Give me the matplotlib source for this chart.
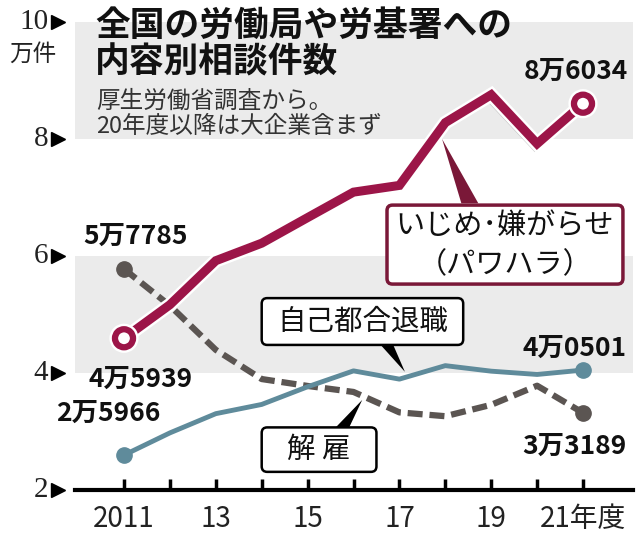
import matplotlib
matplotlib.use("Agg")
import matplotlib.pyplot as plt
import matplotlib.patheffects as pe
from matplotlib.patches import Polygon, FancyBboxPatch

plt.rcParams['font.family'] = ['Noto Sans CJK JP', 'DejaVu Sans']

years = [2011, 2012, 2013, 2014, 2015, 2016, 2017, 2018, 2019, 2020, 2021]
pawahara = [4.5939, 5.1670, 5.9197, 6.2191, 6.6566, 7.0917, 7.2067, 8.2797, 8.7570, 7.9190, 8.6034]
kaiko = [5.7785, 5.1515, 4.3956, 3.8966, 3.7787, 3.6760, 3.3269, 3.2614, 3.4561, 3.7826, 3.3189]
jiko = [2.5966, 2.9763, 3.3049, 3.4626, 3.7648, 4.0364, 3.8954, 4.1258, 4.0313, 3.9750, 4.0501]

xtick_pos = [2011, 2013, 2015, 2017, 2019, 2021]
xtick_labels = ['2011', '13', '15', '17', '19', '21年度']
ytick_pos = [2, 4, 6, 8, 10]
ytick_labels = ['2', '4', '6', '8', '10']

CRIMSON = '#9c1548'
MAROON = '#7a1838'
BLUE = '#5f8b9b'
GRAY = '#5b5552'
BAND = '#ebebeb'

fig = plt.figure(figsize=(6.4, 5.39), dpi=100)
ax = fig.add_axes([75/640, 1-490/539, 558/640, 468/539])
ax.set_xlim(2011 - 49/45.9, 2021 + 50/45.9)
ax.set_ylim(2, 10)

# bands
ax.axhspan(4, 6, color=BAND, zorder=0, lw=0)
ax.axhspan(8, 10, color=BAND, zorder=0, lw=0)

for s in ['left', 'right', 'top']:
    ax.spines[s].set_visible(False)
ax.spines['bottom'].set_linewidth(3)
ax.spines['bottom'].set_color('black')

ax.set_xticks(years, minor=False)
ax.set_xticklabels(['' for _ in years])
ax.tick_params(axis='x', direction='in', length=8, width=2.5, color='black')
for p, l in zip(xtick_pos, xtick_labels):
    ax.text(p, -0.03, l, transform=ax.get_xaxis_transform(), ha='center', va='top',
            fontsize=20, color='#222222')

ax.set_yticks([])
for p, l in zip(ytick_pos, ytick_labels):
    ax.text(-0.048, p, l, transform=ax.get_yaxis_transform(), ha='right', va='center',
            fontsize=21, family='Liberation Serif', color='#222222')
    ax.plot([-0.03], [p], marker='>', markersize=10, color='black',
            transform=ax.get_yaxis_transform(), clip_on=False)
fig.text(9/640, 1-54/539, '万件', ha='left', va='center', fontsize=17, color='#222222')

# lines
ax.plot(years, kaiko, color=GRAY, lw=4.5, dashes=(2.4, 1.1), zorder=3, solid_capstyle='butt')
ax.plot([years[0], years[-1]], [kaiko[0], kaiko[-1]], 'o', color=GRAY, ms=11, zorder=3)
ax.plot(years, jiko, color=BLUE, lw=3.5, zorder=3, solid_joinstyle='round')
ax.plot([years[0], years[-1]], [jiko[0], jiko[-1]], 'o', color=BLUE, ms=11, zorder=3)
effects = [pe.SimpleLineShadow(offset=(-1.5, -1.5), shadow_color='#999999', alpha=0.5),
           pe.Stroke(linewidth=10, foreground='white'), pe.Normal()]
ax.plot(years, pawahara, color=CRIMSON, lw=6.5, zorder=4, solid_joinstyle='miter',
        path_effects=effects)
ax.plot([years[0], years[-1]], [pawahara[0], pawahara[-1]], 'o', color='white', ms=13,
        mec=CRIMSON, mew=4.5, zorder=5,
        path_effects=[pe.Stroke(linewidth=8, foreground='white'), pe.Normal()])

# value labels
lab_kw = dict(fontsize=19, fontweight='bold', color='#111111', zorder=6)
ax.text(years[0] + 0.35, pawahara[0] - 0.7, '4万5939', ha='center', va='center', **lab_kw)
ax.text(years[0] + 0.25, kaiko[0] + 0.55, '5万7785', ha='center', va='center', **lab_kw)
ax.text(years[0] - 0.35, jiko[0] + 0.72, '2万5966', ha='center', va='center', **lab_kw)
ax.text(years[-1] - 0.16, pawahara[-1] + 0.55, '8万6034', ha='center', va='center', **lab_kw)
ax.text(years[-1] - 0.18, jiko[-1] + 0.37, '4万0501', ha='center', va='center', **lab_kw)
ax.text(years[-1] - 0.18, kaiko[-1] - 0.57, '3万3189', ha='center', va='center', **lab_kw)

# callout boxes
def box(x0, x1, y0, y1, ec, lw):
    b = FancyBboxPatch((x0, y0), x1 - x0, y1 - y0,
                       boxstyle='round,pad=0,rounding_size=0.12', mutation_aspect=45.9/58.5,
                       fc='white', ec=ec, lw=lw, zorder=7)
    ax.add_patch(b)

box(2016.73, 2021.87, 5.52, 6.87, MAROON, 2.5)
ax.add_patch(Polygon([(2018.35, 6.90), (2018.72, 6.90), (2017.93, 8.0)], closed=True,
                     fc=MAROON, ec='none', zorder=8))
ax.text(2019.3, 6.52, 'いじめ･嫌がらせ', ha='center', va='center', fontsize=21, color='#111111', zorder=9)
ax.text(2019.3, 5.85, '（パワハラ）', ha='center', va='center', fontsize=21, color='#111111', zorder=9)

box(2014.0, 2018.39, 4.48, 5.28, 'black', 1.8)
ax.add_patch(Polygon([(2016.58, 4.49), (2016.86, 4.49), (2017.12, 4.02)], closed=True,
                     fc='black', ec='none', zorder=8))
ax.text(2016.2, 4.88, '自己都合退職', ha='center', va='center', fontsize=20.5, color='#111111', zorder=9)

box(2014.0, 2016.5, 2.31, 3.07, 'black', 1.8)
ax.add_patch(Polygon([(2015.6, 3.06), (2015.9, 3.06), (2016.19, 3.54)], closed=True,
                     fc='black', ec='none', zorder=8))
ax.text(2015.25, 2.69, '解 雇', ha='center', va='center', fontsize=20.5, color='#111111', zorder=9)

# titles
fig.text(95/640, 1-8/539, '全国の労働局や労基署への\n内容別相談件数', ha='left', va='top',
         fontsize=25, fontweight='bold', linespacing=1.05, color='#111111')
fig.text(96/640, 1-90/539, '厚生労働省調査から。\n20年度以降は大企業含まず', ha='left', va='top',
         fontsize=17, linespacing=1.1, color='#333333')

fig.savefig('out.png', dpi=100)
